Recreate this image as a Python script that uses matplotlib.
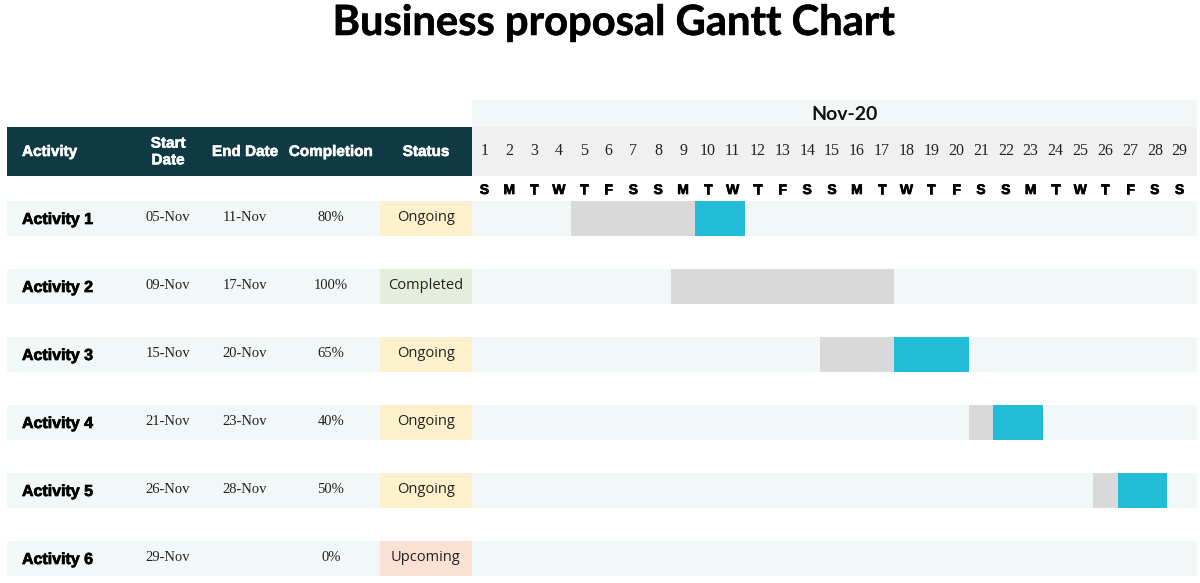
import matplotlib.pyplot as plt
import matplotlib.patheffects as pe
from matplotlib.patches import Rectangle

# chart data
activities = ['Activity 1', 'Activity 2', 'Activity 3', 'Activity 4', 'Activity 5', 'Activity 6']
start_days = [5, 9, 15, 21, 26, 29]
end_days = [11, 17, 20, 23, 28, None]
completion = [80, 100, 65, 40, 50, 0]
status = ['Ongoing', 'Completed', 'Ongoing', 'Ongoing', 'Ongoing', 'Upcoming']
days = list(range(1, 30))
weekdays = list('SMTWTFSSMTWTFSSMTWTFSSMTWTFSS')
month_label = 'Nov-20'
headers = ['Activity', 'Start\nDate', 'End Date', 'Completion', 'Status']

DARK = '#0f3a44'
BAND = '#f1f8f7'
DAYBAND = '#f0f0f0'
DONE = '#d9d9d9'
LEFT = '#22bcd9'
STATUS_COLORS = {'Ongoing': '#fdf1cd', 'Completed': '#e3efdb', 'Upcoming': '#fbe1d4'}


def heavy(color, lw=0.5):
    # thicken bold text a bit, the original uses a very heavy face
    return [pe.withStroke(linewidth=lw, foreground=color)]


W, H = 1200, 583
fig = plt.figure(figsize=(W / 100, H / 100), dpi=100)

# table axes in pixel units
ax_t = fig.add_axes([0, 0, 1, 1])
ax_t.set_xlim(0, W)
ax_t.set_ylim(H, 0)
ax_t.axis('off')

# gantt axes: x in days, y in pixels
gx0, gx1 = 472, 1192
ax_g = fig.add_axes([gx0 / W, 0, (gx1 - gx0) / W, 1])
ax_g.set_xlim(0.5, days[-1] + 0.5)
ax_g.set_ylim(H, 0)
ax_g.axis('off')
band_w = days[-1] + 0.2

fig.text(0.511, 1 - 23 / H, 'Business proposal Gantt Chart', ha='center', va='center',
         fontsize=30, fontweight='bold', family='Lato', path_effects=heavy('black', 0.4))

# header
ax_t.add_patch(Rectangle((7, 127), gx0 - 7, 49, color=DARK, lw=0))
col_x = [22, 168, 245, 331, 426]
for i, (x, h) in enumerate(zip(col_x, headers)):
    ax_t.text(x, 152, h, ha='left' if i == 0 else 'center', va='center', color='white',
              fontsize=11, fontweight='bold', family='Liberation Sans', linespacing=1.25,
              path_effects=heavy('white', 0.4))

ax_g.barh(113.5, band_w, left=0.5, height=27, color=BAND, lw=0, clip_on=False)
ax_g.barh(151.5, band_w, left=0.5, height=49, color=DAYBAND, lw=0, clip_on=False)
ax_g.text(15.5, 114, month_label, ha='center', va='center', fontsize=14,
          fontweight='bold', family='Lato', color='#111111')
for d, wd in zip(days, weekdays):
    ax_g.text(d, 151, str(d), ha='center', va='center', fontsize=11.5,
              family='Liberation Serif', color='#222222')
    ax_g.text(d, 190, wd, ha='center', va='center', fontsize=10,
              fontweight='bold', family='Liberation Sans', color='black',
              path_effects=heavy('black'))

# rows
row_h = 35
for i, name in enumerate(activities):
    y = 218.5 + 68 * i
    ax_t.add_patch(Rectangle((7, y - row_h / 2), gx0 - 7, row_h, color=BAND, lw=0))
    ax_t.add_patch(Rectangle((380, y - row_h / 2), gx0 - 380, row_h,
                             color=STATUS_COLORS[status[i]], lw=0))
    ax_t.text(22, y + 1, name, ha='left', va='center', fontsize=11.5,
              fontweight='bold', family='Liberation Sans', color='black',
              path_effects=heavy('black'))
    ax_t.text(168, y - 1, f'{start_days[i]:02d}-Nov', ha='center', va='center',
              fontsize=10.5, family='Liberation Serif', color='#222222')
    if end_days[i] is not None:
        ax_t.text(245, y - 1, f'{end_days[i]:02d}-Nov', ha='center', va='center',
                  fontsize=10.5, family='Liberation Serif', color='#222222')
    ax_t.text(331, y - 1, f'{completion[i]}%', ha='center', va='center',
              fontsize=10.5, family='Liberation Serif', color='#222222')
    ax_t.text(426, y - 1, status[i], ha='center', va='center', fontsize=10.5,
              family='Open Sans', color='#222222')

    ax_g.barh(y, band_w, left=0.5, height=row_h, color=BAND, lw=0, clip_on=False)
    if end_days[i] is not None:
        dur = end_days[i] - start_days[i] + 1
        done = int(dur * completion[i] / 100)
        ax_g.barh(y, done, left=start_days[i] - 0.5, height=row_h, color=DONE, lw=0)
        ax_g.barh(y, dur - done, left=start_days[i] - 0.5 + done, height=row_h,
                  color=LEFT, lw=0)

fig.savefig('out.png', dpi=100)
